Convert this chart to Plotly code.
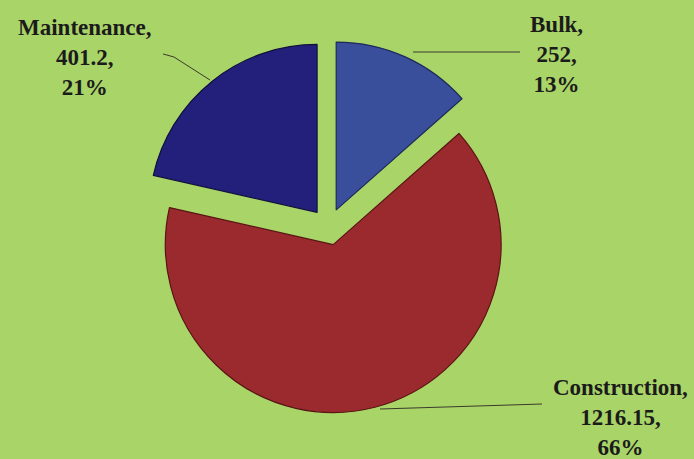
import plotly.graph_objects as go

# Spending split by work category
categories = ["Bulk", "Construction", "Maintenance"]
values = [252, 1216.15, 401.2]
value_labels = ["252", "1216.15", "401.2"]
pct_labels = ["13%", "66%", "21%"]

slice_colors = ["#3a4f9c", "#9b2a2e", "#23207c"]
edge_colors = ["#1f2a5a", "#5a1414", "#10103f"]
background = "#a9d468"

W, H = 694, 459

fig = go.Figure(
    go.Pie(
        labels=categories,
        values=values,
        sort=False,
        direction="clockwise",
        rotation=0,
        pull=[0.11, 0.11, 0.11],
        marker=dict(colors=slice_colors, line=dict(color=edge_colors, width=1.2)),
        textinfo="none",
        hoverinfo="label+value+percent",
        domain=dict(x=[0.205, 0.742], y=[0.100, 0.912]),
        showlegend=False,
    )
)

# Outside labels: "Category,<br>value,<br>percent"
label_pos = {
    "Bulk": (556, 54),
    "Construction": (620, 417),
    "Maintenance": (85, 57),
}
for cat, val, pct in zip(categories, value_labels, pct_labels):
    x, y = label_pos[cat]
    fig.add_annotation(
        x=x / W, y=1 - y / H, xref="paper", yref="paper",
        text=f"<b>{cat},<br>{val},<br>{pct}</b>",
        showarrow=False, xanchor="center", yanchor="middle", align="center",
        font=dict(family="Liberation Serif, Times New Roman, serif", size=23, color="#1b1b1b"),
    )

# Leader lines from slices to their labels
leaders = [
    [(413, 52), (520, 52)],
    [(380, 409), (542, 404)],
    [(163, 54), (174, 57), (210, 80)],
]
for pts in leaders:
    path = "M " + " L ".join(f"{px / W:.4f},{1 - py / H:.4f}" for px, py in pts)
    fig.add_shape(type="path", xref="paper", yref="paper", path=path,
                  line=dict(color="#3a3a2a", width=1))

fig.update_layout(
    width=W, height=H,
    margin=dict(l=0, r=0, t=0, b=0),
    paper_bgcolor=background,
    plot_bgcolor=background,
)

fig.write_html("out.html")
